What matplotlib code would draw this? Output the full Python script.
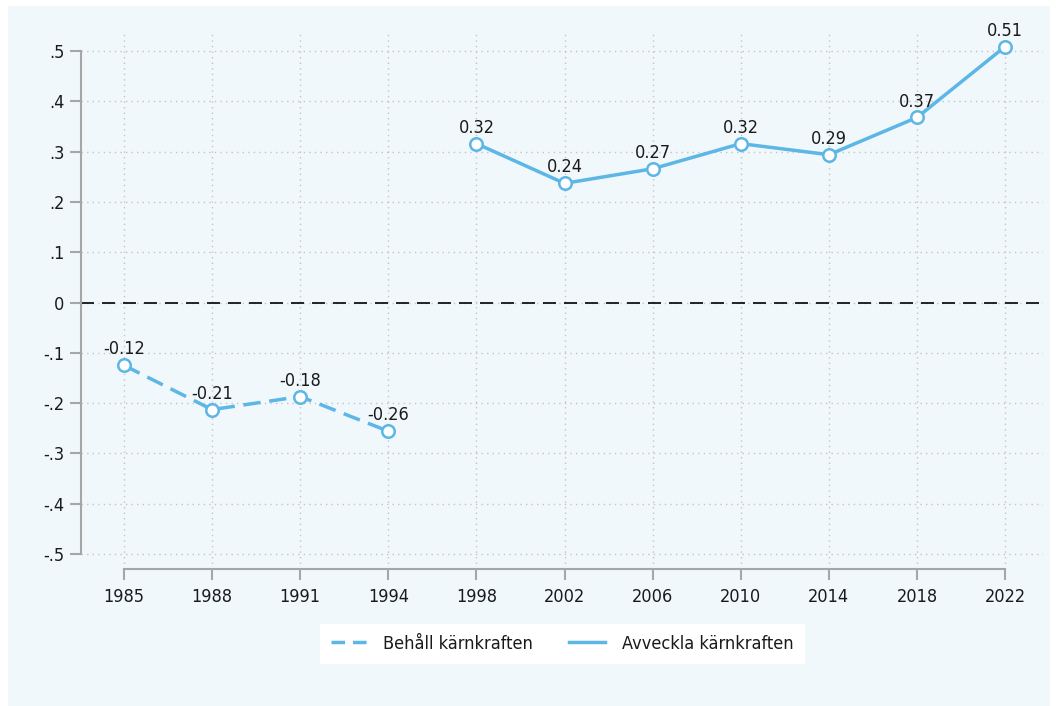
import matplotlib
matplotlib.use('Agg')
import matplotlib.pyplot as plt
from matplotlib.patches import Rectangle
from matplotlib.lines import Line2D

years = ['1985', '1988', '1991', '1994', '1998', '2002', '2006', '2010', '2014', '2018', '2022']
behall = [-0.125, -0.213, -0.187, -0.256]
behall_labels = ['-0.12', '-0.21', '-0.18', '-0.26']
avveckla = [0.316, 0.237, 0.266, 0.316, 0.294, 0.368, 0.509]
avveckla_labels = ['0.32', '0.24', '0.27', '0.32', '0.29', '0.37', '0.51']

plt.rcParams['font.family'] = ['DejaVu Sans']
plt.rcParams['font.stretch'] = 'condensed'
blue = '#5cb6e6'
grey = '#a6a6a6'
txt = '#1a1a1a'

fig = plt.figure(figsize=(10.58, 7.06), dpi=100)
fig.patches.append(Rectangle((8/1058, 0), 1042/1058, 700/706, transform=fig.transFigure,
                             facecolor='#f0f8fc', edgecolor='none', zorder=-10))
ax = fig.add_axes([81/1058, 1 - 569/706, (1043-81)/1058, (569-31)/706])
ax.set_facecolor('none')

dash = (0, (5, 2.5))
xb = list(range(len(behall)))
xa = list(range(len(behall), len(years)))
ax.plot(xb, behall, color=blue, lw=2.5, ls=dash, marker='o', ms=9,
        mfc='white', mec=blue, mew=1.8, zorder=3)
ax.plot(xa, avveckla, color=blue, lw=2.5, marker='o', ms=9,
        mfc='white', mec=blue, mew=1.8, zorder=3)
for x, v, s in zip(xb + xa, behall + avveckla, behall_labels + avveckla_labels):
    ax.annotate(s, (x, v), xytext=(0, 5), textcoords='offset points',
                ha='center', va='bottom', fontsize=13, color=txt)

ax.axhline(0, color='black', lw=1.2, ls=(0, (7.8, 4.8)), zorder=2)

ax.set_xlim(-0.488, 10.43)
ax.set_ylim(-0.53, 0.54)
ax.set_xticks(range(len(years)))
ax.set_xticklabels(years)
yt = [-0.5, -0.4, -0.3, -0.2, -0.1, 0, 0.1, 0.2, 0.3, 0.4, 0.5]
ax.set_yticks(yt)
ax.set_yticklabels([('%.1f' % t).replace('0.', '.') if t != 0 else '0' for t in yt])
ax.grid(True, color='#c4c4c4', ls=(0, (1, 3)), lw=1)
ax.set_axisbelow(True)

for s in ['top', 'right']:
    ax.spines[s].set_visible(False)
for s in ['left', 'bottom']:
    ax.spines[s].set_color(grey)
    ax.spines[s].set_linewidth(1.5)
ax.spines['left'].set_bounds(-0.5, 0.5)
ax.spines['bottom'].set_bounds(0, 10)
ax.tick_params(axis='both', colors=grey, width=1.5, length=8, labelsize=13, labelcolor=txt)
ax.tick_params(axis='y', pad=4)
ax.tick_params(axis='x', pad=6)

handles = [Line2D([], [], color=blue, lw=2.5, ls=(0, (3.9, 2.3))),
           Line2D([], [], color=blue, lw=2.5)]
leg = ax.legend(handles, ['Behåll kärnkraften', 'Avveckla kärnkraften'],
                loc='upper center', bbox_to_anchor=(0.5, -0.085), ncol=2, frameon=True,
                fancybox=False, edgecolor='white', facecolor='white', framealpha=1,
                fontsize=13, handlelength=2.0, columnspacing=2.0, borderpad=0.6,
                handletextpad=0.9)
for t in leg.get_texts():
    t.set_color(txt)

fig.savefig('out.png', dpi=100)
